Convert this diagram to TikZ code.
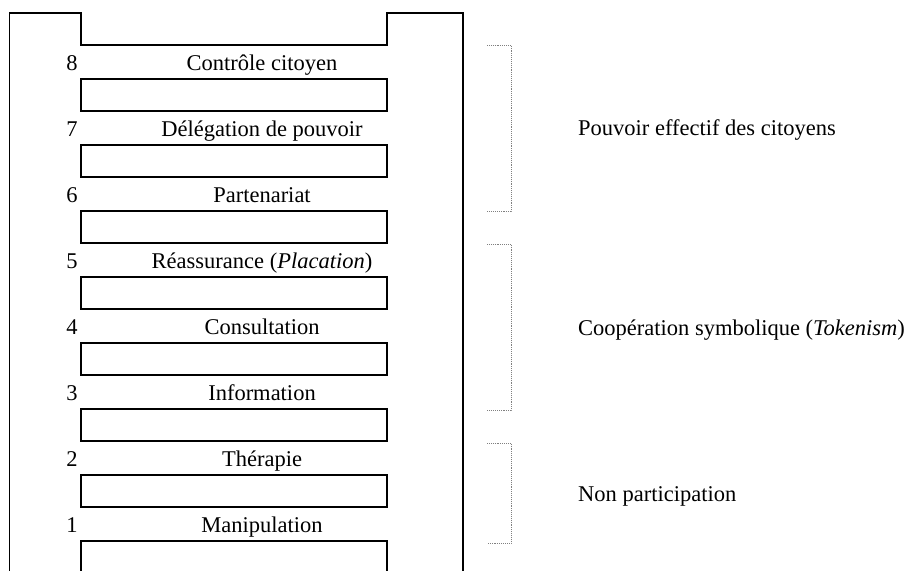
\documentclass[tikz,border=0pt]{standalone}
\usepackage{fontspec}
\setmainfont{Liberation Serif}
\begin{document}
\begin{tikzpicture}[x=1pt,y=-1pt,
  lad/.style={line width=1.4pt, line join=miter},
  brk/.style={gray, densely dotted, line width=0.9pt},
  lbl/.style={font=\fontsize{22.5}{27}\selectfont, anchor=base, inner sep=0pt},
  side/.style={lbl, anchor=base west}]
\useasboundingbox (0,0) rectangle (912,570);
% ladder frame
\draw[lad] (9.5,571) -- (9.5,13) -- (81,13) -- (81,45) -- (387,45) -- (387,13) -- (463,13) -- (463,571);
% rungs
\foreach \k in {0,...,6}
  \draw[lad] (81,79+66*\k) rectangle (387,111+66*\k);
\draw[lad] (81,571) -- (81,541) -- (387,541) -- (387,571);
% numbers and labels
\node[lbl] (n8) at (72,70)  {8}; \node[lbl] (t8) at (262,70)  {Contrôle citoyen};
\node[lbl] (n7) at (72,136) {7}; \node[lbl] (t7) at (262,136) {Délégation de pouvoir};
\node[lbl] (n6) at (72,202) {6}; \node[lbl] (t6) at (262,202) {Partenariat};
\node[lbl] (n5) at (72,268) {5}; \node[lbl] (t5) at (262,268) {Réassurance (\textit{Placation})};
\node[lbl] (n4) at (72,334) {4}; \node[lbl] (t4) at (262,334) {Consultation};
\node[lbl] (n3) at (72,400) {3}; \node[lbl] (t3) at (262,400) {Information};
\node[lbl] (n2) at (72,466) {2}; \node[lbl] (t2) at (262,466) {Thérapie};
\node[lbl] (n1) at (72,532) {1}; \node[lbl] (t1) at (262,532) {Manipulation};
% brackets
\draw[brk] (487,45) -- (511,45) -- (511,211) -- (487,211);
\draw[brk] (487,244) -- (511,244) -- (511,410) -- (487,410);
\draw[brk] (487,443) -- (511,443) -- (511,543) -- (487,543);
% group labels
\node[side] (g1) at (578,135) {Pouvoir effectif des citoyens};
\node[side] (g2) at (578,335) {Coopération symbolique (\textit{Tokenism})};
\node[side] (g3) at (578,501) {Non participation};
\end{tikzpicture}
\end{document}
